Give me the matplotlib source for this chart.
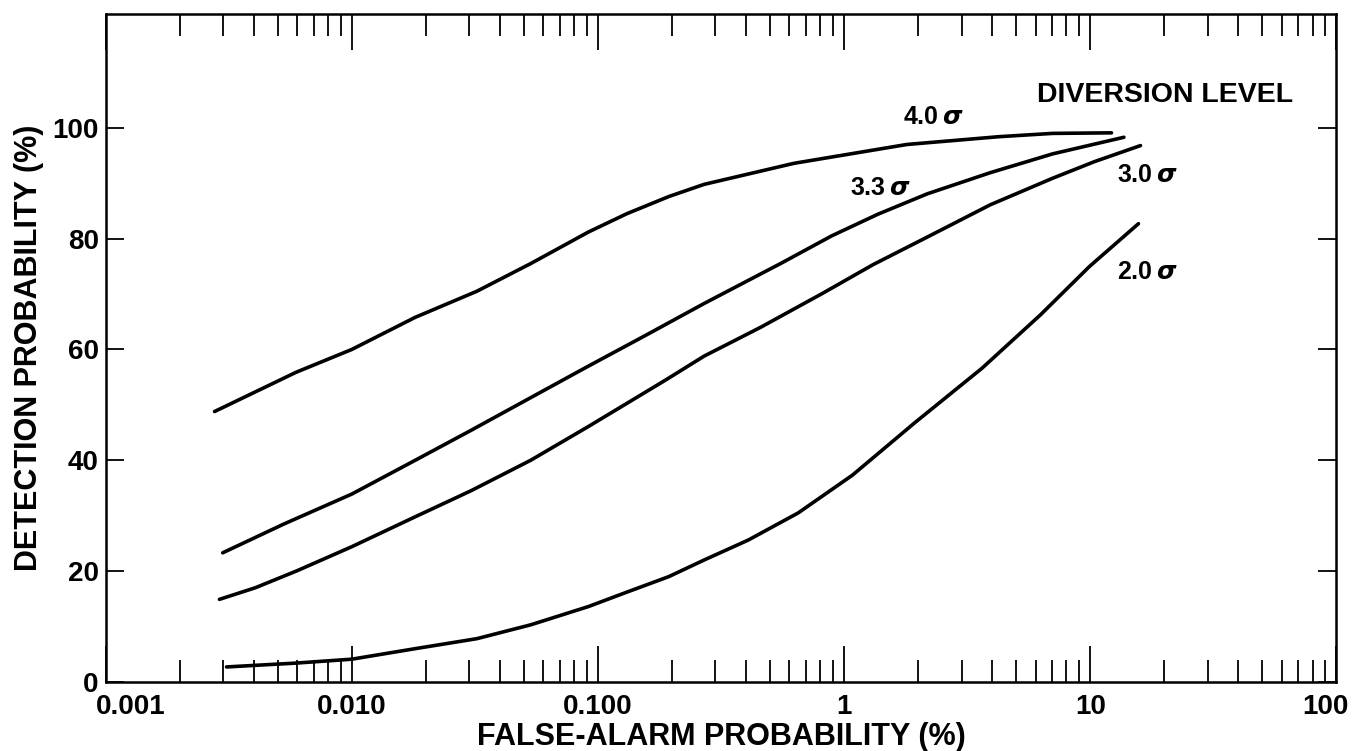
import matplotlib
matplotlib.use("Agg")
import matplotlib.pyplot as plt
import matplotlib.transforms as mtransforms
from matplotlib.ticker import FixedLocator, NullFormatter

plt.rcParams['font.family'] = ['Liberation Sans', 'DejaVu Sans']
plt.rcParams['font.weight'] = 'bold'

# false-alarm probability (%) vs detection probability (%)
fa_40 = [0.00277, 0.00595, 0.010, 0.0181, 0.0322, 0.0533, 0.0915, 0.131, 0.194, 0.27,
         0.626, 1.80, 4.24, 7.03, 12.2]
pd_40 = [48.8, 55.9, 60.0, 65.8, 70.5, 75.5, 81.2, 84.5, 87.6, 89.8,
         93.6, 97.0, 98.4, 99.0, 99.1]

fa_33 = [0.00299, 0.0053, 0.010, 0.0181, 0.0305, 0.0533, 0.0915, 0.157, 0.27,
         0.557, 0.89, 1.37, 2.18, 3.92, 7.03, 13.7]
pd_33 = [23.3, 28.5, 33.9, 40.0, 45.4, 51.3, 57.0, 62.6, 68.3,
         75.6, 80.5, 84.4, 88.1, 91.9, 95.3, 98.3]

fa_30 = [0.0029, 0.00406, 0.00595, 0.010, 0.0181, 0.0305, 0.0533, 0.0915, 0.187, 0.27,
         0.458, 0.823, 1.31, 2.18, 3.92, 7.03, 10.4, 16.0]
pd_30 = [14.9, 17.0, 20.0, 24.4, 29.8, 34.5, 40.0, 46.1, 54.4, 58.8,
         64.0, 70.2, 75.3, 80.3, 86.1, 90.9, 93.9, 96.8]

fa_20 = [0.0031, 0.00595, 0.010, 0.0181, 0.0322, 0.0533, 0.0915, 0.131, 0.194, 0.27,
         0.408, 0.651, 1.08, 1.94, 3.63, 6.26, 9.94, 15.7]
pd_20 = [2.7, 3.4, 4.1, 6.0, 7.8, 10.3, 13.6, 16.2, 19.0, 22.0,
         25.6, 30.5, 37.3, 46.8, 56.6, 66.2, 75.0, 82.7]

curve_labels = [r'4.0$\,\sigma$', r'3.3$\,\sigma$', r'3.0$\,\sigma$', r'2.0$\,\sigma$']
label_x = [2.3, 1.40, 17.0, 17.0]
label_y = [102.0, 89.2, 91.5, 73.9]

x_ticks = [0.001, 0.01, 0.1, 1, 10, 100]
x_ticklabels = ['0.001', '0.010', '0.100', '1', '10', '100']
y_ticks = [0, 20, 40, 60, 80, 100]

fig = plt.figure(figsize=(13.54, 7.51), dpi=100)
ax = fig.add_axes([0.078, 0.092, 0.909, 0.889])

for fa, pd in [(fa_40, pd_40), (fa_33, pd_33), (fa_30, pd_30), (fa_20, pd_20)]:
    ax.plot(fa, pd, color='black', lw=2.6, solid_capstyle='round', solid_joinstyle='round')

for txt, lx, ly in zip(curve_labels, label_x, label_y):
    ax.text(lx, ly, txt, ha='center', va='center', fontsize=18, fontweight='bold')

ax.text(67, 106, 'DIVERSION LEVEL', ha='right', va='center', fontsize=20.5, fontweight='bold')

ax.set_xscale('log')
ax.set_xlim(0.001, 100)
ax.set_ylim(0, 120.5)

ax.xaxis.set_major_locator(FixedLocator(x_ticks))
ax.set_xticklabels(x_ticklabels)
minors = [m * 10.0 ** e for e in range(-3, 2) for m in range(2, 10)]
ax.xaxis.set_minor_locator(FixedLocator(minors))
ax.xaxis.set_minor_formatter(NullFormatter())
ax.set_yticks(y_ticks)

ax.tick_params(axis='x', which='major', direction='in', length=26, width=1.3,
               top=True, bottom=True, labelsize=20, pad=9)
ax.tick_params(axis='x', which='minor', direction='in', length=16, width=1.3,
               top=True, bottom=True)
ax.tick_params(axis='y', which='major', direction='in', length=13, width=1.3,
               left=True, right=True, labelsize=20, pad=5)
for lab in ax.get_xticklabels() + ax.get_yticklabels():
    lab.set_fontweight('bold')

# end labels are nudged inward as on the original print
xlabs = ax.get_xticklabels()
for lab, dx in [(xlabs[0], 18), (xlabs[-1], -8)]:
    lab.set_transform(lab.get_transform() +
                      mtransforms.ScaledTranslation(dx / 72, 0, fig.dpi_scale_trans))

for s in ax.spines.values():
    s.set_linewidth(1.8)

ax.set_xlabel('FALSE-ALARM PROBABILITY (%)', fontsize=22, fontweight='bold', labelpad=1)
ax.set_ylabel('DETECTION PROBABILITY (%)', fontsize=22, fontweight='bold', labelpad=6)

fig.savefig('out.png', dpi=100)
